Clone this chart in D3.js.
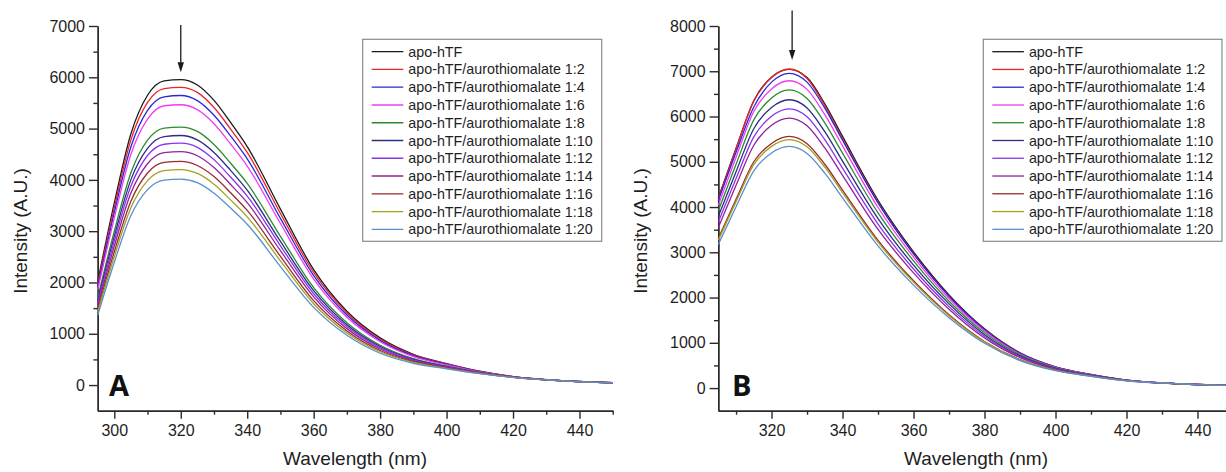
<!DOCTYPE html>
<html>
<head>
<meta charset="utf-8">
<script src="https://cdn.jsdelivr.net/npm/d3@7"></script>
<style>
    body { margin: 0; background: #fff; }
    text { font-family: "Liberation Sans", Arial, sans-serif; fill: #1e1e1e; }
    .axis path, .axis line { stroke: #2a2a2a; stroke-width: 1.4; }
    .axis text { font-size: 16px; }
    .axis-title { font-size: 19px; }
    .legend-label { font-size: 14.3px; }
    .panel-label { font-family: "Open Sans", "DejaVu Sans", sans-serif; font-weight: 700; font-size: 29px; fill: #111; }
</style>
</head>
<body>
<div id="chart"></div>
<script>
const seriesLabels = [
    "apo-hTF",
    "apo-hTF/aurothiomalate 1:2",
    "apo-hTF/aurothiomalate 1:4",
    "apo-hTF/aurothiomalate 1:6",
    "apo-hTF/aurothiomalate 1:8",
    "apo-hTF/aurothiomalate 1:10",
    "apo-hTF/aurothiomalate 1:12",
    "apo-hTF/aurothiomalate 1:14",
    "apo-hTF/aurothiomalate 1:16",
    "apo-hTF/aurothiomalate 1:18",
    "apo-hTF/aurothiomalate 1:20"
];

const seriesColors = [
    "#1a1a1a", "#ec2428", "#2828d8", "#f03cf0", "#2a8c2e", "#2c2c84",
    "#8a34ec", "#92229a", "#9a2a2a", "#a2a024", "#5a8fce"
];

// panel A: wavelength (nm) and intensity (A.U.)
const wavelengthA = [295, 300, 305, 310, 315, 320, 325, 330, 335, 340, 350, 360, 370, 380, 390, 400, 410, 420, 435, 450];

const a0  = [2015, 3550, 4900, 5650, 5930, 5955, 5850, 5550, 5120, 4650, 3430, 2250, 1440, 920, 600, 420, 270, 165, 85, 45];
const a2  = [1965, 3460, 4780, 5510, 5780, 5805, 5705, 5410, 4990, 4535, 3345, 2195, 1405, 897, 587, 412, 266, 164, 85, 45];
const a4  = [1910, 3365, 4645, 5355, 5620, 5645, 5545, 5260, 4855, 4410, 3250, 2135, 1365, 872, 572, 404, 262, 162, 85, 45];
const a6  = [1850, 3260, 4500, 5185, 5445, 5465, 5370, 5095, 4700, 4270, 3150, 2065, 1320, 845, 556, 394, 258, 161, 84, 45];
const a8  = [1700, 3000, 4140, 4775, 5010, 5030, 4945, 4690, 4325, 3930, 2900, 1900, 1215, 777, 516, 371, 247, 157, 84, 45];
const a10 = [1645, 2900, 4005, 4615, 4845, 4865, 4780, 4535, 4185, 3800, 2800, 1840, 1175, 752, 501, 362, 243, 156, 83, 45];
const a12 = [1595, 2810, 3880, 4475, 4695, 4715, 4635, 4395, 4055, 3685, 2715, 1780, 1140, 729, 488, 354, 239, 155, 83, 45];
const a14 = [1540, 2710, 3745, 4315, 4530, 4550, 4470, 4240, 3910, 3555, 2620, 1720, 1100, 703, 473, 346, 235, 153, 83, 45];
const a16 = [1475, 2600, 3585, 4135, 4340, 4360, 4280, 4065, 3750, 3405, 2510, 1645, 1055, 673, 455, 336, 230, 152, 83, 45];
const a18 = [1420, 2505, 3455, 3985, 4180, 4200, 4125, 3915, 3610, 3280, 2420, 1585, 1015, 649, 441, 327, 226, 150, 82, 45];
const a20 = [1360, 2395, 3305, 3810, 3995, 4015, 3945, 3740, 3450, 3135, 2310, 1515, 970, 620, 424, 317, 222, 149, 82, 45];

// panel B
const wavelengthB = [305, 310, 315, 320, 325, 330, 335, 340, 350, 360, 370, 380, 390, 400, 410, 420, 435, 450];

const b0  = [4200, 5300, 6350, 6870, 7040, 6860, 6280, 5560, 4150, 3010, 2060, 1310, 780, 470, 300, 175, 95, 55];
const b2  = [4180, 5290, 6340, 6860, 7050, 6840, 6240, 5510, 4100, 2970, 2035, 1295, 770, 465, 298, 174, 95, 55];
const b4  = [4140, 5210, 6210, 6760, 6955, 6760, 6185, 5475, 4090, 2965, 2030, 1290, 770, 465, 298, 174, 95, 55];
const b6  = [4040, 5100, 6110, 6610, 6790, 6600, 6040, 5350, 3990, 2895, 1980, 1260, 753, 457, 294, 173, 95, 55];
const b8  = [3920, 4945, 5925, 6410, 6590, 6400, 5860, 5190, 3870, 2810, 1920, 1220, 733, 446, 289, 172, 94, 55];
const b10 = [3790, 4780, 5730, 6200, 6370, 6190, 5665, 5015, 3745, 2715, 1860, 1180, 711, 435, 284, 170, 94, 55];
const b12 = [3670, 4630, 5550, 6005, 6170, 5995, 5490, 4860, 3625, 2630, 1800, 1145, 692, 426, 279, 168, 94, 55];
const b14 = [3550, 4480, 5365, 5805, 5965, 5795, 5305, 4700, 3505, 2545, 1740, 1105, 671, 415, 275, 167, 94, 55];
const b16 = [3305, 4170, 5000, 5405, 5560, 5400, 4945, 4375, 3265, 2370, 1620, 1030, 630, 395, 265, 164, 93, 55];
const b18 = [3265, 4120, 4935, 5340, 5490, 5330, 4880, 4320, 3225, 2340, 1600, 1020, 623, 392, 263, 163, 93, 55];
const b20 = [3175, 4005, 4800, 5195, 5340, 5185, 4750, 4205, 3140, 2275, 1555, 990, 608, 384, 260, 162, 93, 55];

// arrows marking the emission maximum: [wavelength, from, to]
const arrowA = [320, 7020, 6100];
const arrowB = [325.8, 8340, 7250];

const xTicksA = [300, 320, 340, 360, 380, 400, 420, 440];
const xTicksB = [320, 340, 360, 380, 400, 420, 440];

const buildPanel = (svg, opts) => {
    const x = d3.scaleLinear().domain(opts.xDomain).range([opts.left, opts.right]);
    const y = d3.scaleLinear().domain(opts.yDomain).range([410.7, 26]);

    const g = svg.append("g");

    // minor ticks first, then major axes on top
    g.append("g")
        .attr("class", "axis")
        .attr("transform", `translate(0,${y(opts.yDomain[0])})`)
        .call(d3.axisBottom(x).tickValues(d3.range(310, 451, 20)).tickSize(4).tickSizeOuter(0).tickFormat(""));
    g.append("g")
        .attr("class", "axis")
        .attr("transform", `translate(0,${y(opts.yDomain[0])})`)
        .call(d3.axisBottom(x).tickValues(opts.xTicks).tickSize(8).tickSizeOuter(0).tickPadding(6).tickFormat(d3.format("d")));

    g.append("g")
        .attr("class", "axis")
        .attr("transform", `translate(${opts.left},0)`)
        .call(d3.axisLeft(y).tickValues(d3.range(500, opts.yDomain[1], 1000)).tickSize(4.3).tickSizeOuter(0).tickFormat(""));
    g.append("g")
        .attr("class", "axis")
        .attr("transform", `translate(${opts.left},0)`)
        .call(d3.axisLeft(y).tickValues(d3.range(0, opts.yDomain[1] + 1, 1000)).tickSize(8.7).tickSizeOuter(0).tickPadding(4).tickFormat(d3.format("d")));

    g.append("text")
        .attr("class", "axis-title")
        .attr("x", opts.titleX)
        .attr("y", 465)
        .attr("text-anchor", "middle")
        .text("Wavelength (nm)");

    g.append("text")
        .attr("class", "axis-title")
        .attr("transform", `translate(${opts.yTitleX},231) rotate(-90)`)
        .attr("text-anchor", "middle")
        .text("Intensity (A.U.)");

    const line = d3.line()
        .x(d => x(d[0]))
        .y(d => y(d[1]))
        .curve(d3.curveMonotoneX);

    opts.series.forEach((values, i) => {
        g.append("path")
            .datum(opts.wavelength.map((w, k) => [w, values[k]]))
            .attr("d", line)
            .attr("fill", "none")
            .attr("stroke", seriesColors[i])
            .attr("stroke-width", 1.3);
    });

    // arrow
    const [aw, a1, a2] = opts.arrow;
    g.append("line")
        .attr("x1", x(aw)).attr("x2", x(aw))
        .attr("y1", y(a1)).attr("y2", y(a2) - 8)
        .attr("stroke", "#1a1a1a")
        .attr("stroke-width", 1.3);
    g.append("path")
        .attr("d", `M${x(aw) - 3.2},${y(a2) - 10}L${x(aw) + 3.2},${y(a2) - 10}L${x(aw)},${y(a2)}Z`)
        .attr("fill", "#1a1a1a");

    g.append("text")
        .attr("class", "panel-label")
        .attr("x", opts.labelX)
        .attr("y", 395.5)
        .text(opts.label);

    // legend
    const rowH = 17.76;
    const legend = g.append("g").attr("transform", `translate(${opts.legendX},39.3)`);
    legend.append("rect")
        .attr("width", opts.legendW)
        .attr("height", 202)
        .attr("fill", "#fff")
        .attr("stroke", "#8a8a8a")
        .attr("stroke-width", 1.2);
    seriesLabels.forEach((label, i) => {
        const ly = 12.4 + i * rowH;
        legend.append("line")
            .attr("x1", 9).attr("x2", 40.6)
            .attr("y1", ly).attr("y2", ly)
            .attr("stroke", seriesColors[i])
            .attr("stroke-width", 1.3);
        legend.append("text")
            .attr("class", "legend-label")
            .attr("x", 45.6)
            .attr("y", ly)
            .attr("dy", "0.35em")
            .text(label);
    });
};

const svg = d3.select("#chart")
    .append("svg")
    .attr("width", 1226)
    .attr("height", 472);

svg.append("rect").attr("width", 1226).attr("height", 472).attr("fill", "#fff");

buildPanel(svg, {
    xDomain: [295, 450], yDomain: [-500, 7000],
    left: 97.7, right: 612.7,
    xTicks: xTicksA,
    wavelength: wavelengthA,
    series: [a0, a2, a4, a6, a8, a10, a12, a14, a16, a18, a20],
    arrow: arrowA,
    label: "A", labelX: 109,
    legendX: 362.7, legendW: 239,
    titleX: 355, yTitleX: 27
});

buildPanel(svg, {
    xDomain: [305, 450], yDomain: [-500, 8000],
    left: 718.3, right: 1233,
    xTicks: xTicksB,
    wavelength: wavelengthB,
    series: [b0, b2, b4, b6, b8, b10, b12, b14, b16, b18, b20],
    arrow: arrowB,
    label: "B", labelX: 732,
    legendX: 983.3, legendW: 238.7,
    titleX: 976, yTitleX: 647
});
</script>
</body>
</html>
